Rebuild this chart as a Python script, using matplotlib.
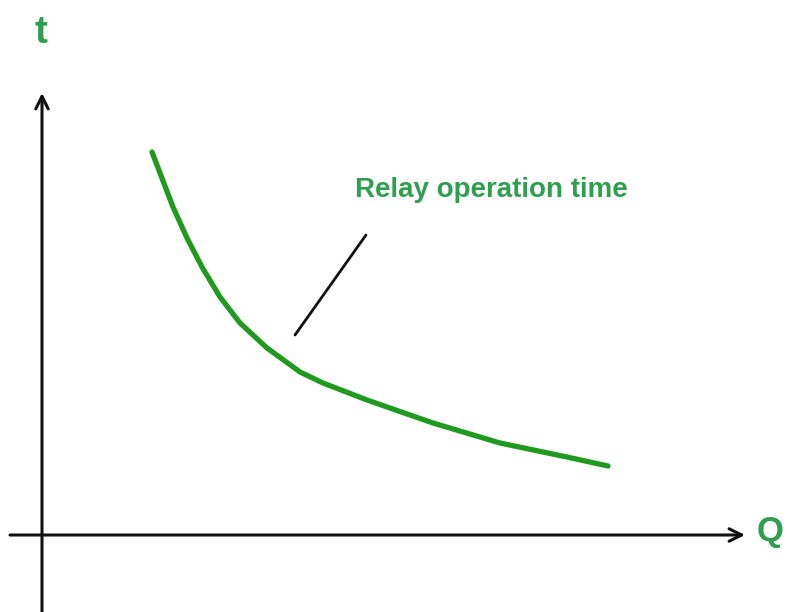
import matplotlib
matplotlib.use("Agg")
import matplotlib.pyplot as plt

# relay characteristic (Q along x, t up)
q_vals = [110, 131, 145, 160, 178, 198, 225, 258, 281, 325, 391, 458, 525, 566]
t_vals = [383, 328, 297, 268, 238, 212, 187, 163, 152, 135, 112, 92, 78, 69]

curve_label = "Relay operation time"
x_name = "Q"
y_name = "t"

green_line = "#1f9a1f"
green_text = "#2f9e4f"


def main():
    fig = plt.figure(figsize=(7.87, 6.12), dpi=100)
    ax = fig.add_axes([0, 0, 1, 1])
    ax.set_xlim(-42, 745)
    ax.set_ylim(-77, 535)
    ax.axis("off")

    # axes with open arrow heads
    arrow = dict(arrowstyle="->,head_length=0.9,head_width=0.45", color="#111111", lw=2.2,
                 shrinkA=0, shrinkB=0)
    ax.annotate("", xy=(703, 0), xytext=(-32, 0), arrowprops=arrow)
    ax.annotate("", xy=(0, 442), xytext=(0, -77), arrowprops=arrow)

    ax.plot(q_vals, t_vals, color=green_line, lw=3.8, solid_capstyle="round",
            solid_joinstyle="round")

    # pointer from label to curve
    ax.plot([324, 253], [300, 200], color="#111111", lw=2.0, solid_capstyle="round")

    font = ["Liberation Sans", "DejaVu Sans"]
    ax.text(313, 338, curve_label, family=font, fontweight="bold", fontsize=20,
            color=green_text, ha="left", va="baseline")
    ax.text(-1, 502, y_name, family=font, fontweight="bold", fontsize=28,
            color=green_text, ha="center", va="center")
    ax.text(728, 3, x_name, family=font, fontweight="bold", fontsize=25,
            color=green_text, ha="center", va="center")

    fig.savefig("out.png", dpi=100)


if __name__ == "__main__":
    main()
